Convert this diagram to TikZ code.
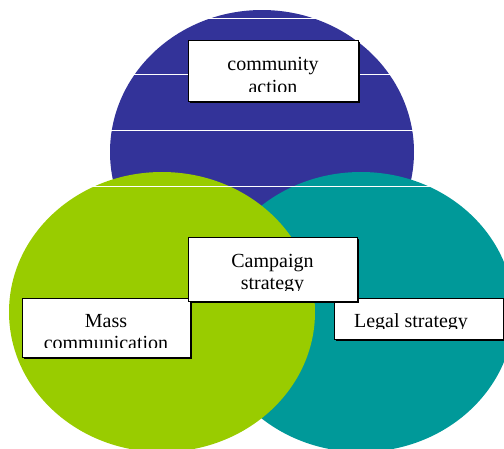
\documentclass[tikz,border=0pt]{standalone}
\usepackage{fontspec}
\setmainfont{Liberation Serif}
\usetikzlibrary{shadows}
\definecolor{cblue}{HTML}{333399}
\definecolor{cgreen}{HTML}{99CC00}
\definecolor{cteal}{HTML}{009999}
\tikzset{
  frame/.style={draw=black, fill=white, line width=1pt, rectangle, inner sep=0pt, anchor=north west,
    drop shadow={shadow xshift=1.2pt, shadow yshift=-1.2pt, fill=black, opacity=1}},
  lbl/.style={anchor=base, inner sep=0pt, font=\fontsize{20}{22}\selectfont, text=black},
  rule/.style={draw=white, line width=0.9pt}
}
\begin{document}
\begin{tikzpicture}[x=1pt, y=-1pt]
\useasboundingbox (0,0) rectangle (504,448);
\begin{scope}
\clip (0,0) rectangle (504,448);
% circles
\fill[cblue] (262,152) ellipse [x radius=152pt, y radius=142pt];
\fill[cteal] (361,312) ellipse [x radius=153pt, y radius=140pt];
\fill[cgreen] (162,312) ellipse [x radius=153pt, y radius=140pt];
% white rules
\coordinate (r1a) at (0,18);  \coordinate (r1b) at (504,18);
\coordinate (r2a) at (0,74);  \coordinate (r2b) at (504,74);
\coordinate (r3a) at (0,130); \coordinate (r3b) at (504,130);
\coordinate (r4a) at (0,186); \coordinate (r4b) at (504,186);
\draw[rule] (r1a) -- (r1b);
\draw[rule] (r2a) -- (r2b);
\draw[rule] (r3a) -- (r3b);
\draw[rule] (r4a) -- (r4b);
\end{scope}
% community action
\node[frame, minimum width=170pt, minimum height=61pt] (bca) at (188,40) {};
\begin{scope}
\clip (188,40) rectangle (358,91);
\node[lbl] (ca1) at (273,70) {community};
\node[lbl] (ca2) at (273,93.5) {action};
\end{scope}
% mass communication
\node[frame, minimum width=168pt, minimum height=59pt] (bmc) at (22,298) {};
\begin{scope}
\clip (22,298) rectangle (190,347);
\node[lbl] (mc1) at (106,327) {Mass};
\node[lbl] (mc2) at (106,349.5) {communication};
\end{scope}
% legal strategy
\node[frame, minimum width=169pt, minimum height=41pt] (bls) at (334,298) {};
\begin{scope}
\clip (334,298) rectangle (503,328);
\node[lbl] (ls1) at (411,327) {Legal strategy};
\end{scope}
% campaign strategy
\node[frame, minimum width=169pt, minimum height=64pt] (bcs) at (188,237) {};
\begin{scope}
\clip (188,237) rectangle (357,290);
\node[lbl] (cs1) at (272.5,267) {Campaign};
\node[lbl] (cs2) at (272.5,289) {strategy};
\end{scope}
\end{tikzpicture}
\end{document}
